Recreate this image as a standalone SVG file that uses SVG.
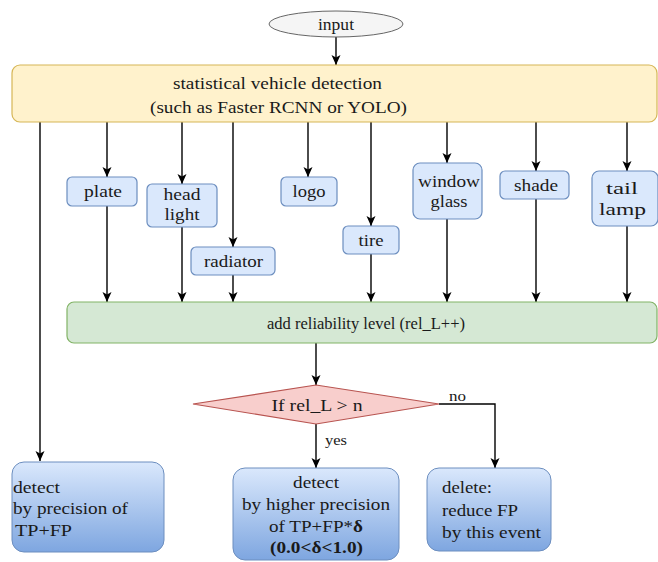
<svg xmlns="http://www.w3.org/2000/svg" width="658" height="562" viewBox="0 0 658 562">
<defs>
<linearGradient id="bg" x1="0" y1="0" x2="0" y2="1"><stop offset="0" stop-color="#dae8fc"/><stop offset="1" stop-color="#7ea6e0"/></linearGradient>
<marker id="ar" markerUnits="userSpaceOnUse" markerWidth="11" markerHeight="10" refX="10" refY="4.5" orient="auto"><path d="M0,0 L10,4.5 L0,9 L2.5,4.5 z" fill="#000"/></marker>
<style>
text{font-family:"Liberation Serif","DejaVu Serif",serif;fill:#1a1a1a;font-size:17px}
.c{text-anchor:middle}
.sb{fill:#dae8fc;stroke:#6c8ebf;stroke-width:1.2}
.bb{fill:url(#bg);stroke:#6c8ebf;stroke-width:1}
.ln{fill:none;stroke:#000;stroke-width:1.4}
.ar{marker-end:url(#ar)}
.sm{font-size:14px}
</style>
</defs>
<rect width="658" height="562" fill="#fff"/>
<g id="connectors">
<path class="ln ar" d="M336,37 V65"/>
<path class="ln ar" d="M40,122 V461"/>
<path class="ln ar" d="M107,122 V177"/>
<path class="ln ar" d="M182,122 V184"/>
<path class="ln ar" d="M233,122 V247"/>
<path class="ln ar" d="M308,122 V177"/>
<path class="ln ar" d="M371,122 V226"/>
<path class="ln ar" d="M447,122 V163"/>
<path class="ln ar" d="M536,122 V171"/>
<path class="ln ar" d="M627,122 V171"/>
<path class="ln ar" d="M107,206 V302"/>
<path class="ln ar" d="M182,227 V302"/>
<path class="ln ar" d="M233,275 V302"/>
<path class="ln ar" d="M371,254 V302"/>
<path class="ln ar" d="M447,219 V302"/>
<path class="ln ar" d="M536,199 V302"/>
<path class="ln ar" d="M627,226 V302"/>
<path class="ln ar" d="M316,343 V385"/>
<path class="ln ar" d="M439,404 H495 V468"/>
<path class="ln ar" d="M316,424 V468"/>
<text x="449" y="401" class="sm" textLength="17" lengthAdjust="spacingAndGlyphs">no</text>
<text x="325" y="445" class="sm" textLength="22" lengthAdjust="spacingAndGlyphs">yes</text>
</g>
<g id="input">
<ellipse cx="336" cy="24" rx="67" ry="13" fill="#f5f5f5" stroke="#666" stroke-width="1"/>
<text x="336" y="30" class="c" font-size="16" textLength="36" lengthAdjust="spacingAndGlyphs">input</text>
</g>
<g id="detection">
<rect x="12" y="65" width="645" height="57" rx="8" fill="#fff2cc" stroke="#d6b656" stroke-width="1.2"/>
<text x="277.5" y="89" class="c" textLength="209" lengthAdjust="spacingAndGlyphs">statistical vehicle detection</text>
<text x="278.5" y="113" class="c" textLength="257" lengthAdjust="spacingAndGlyphs">(such as Faster RCNN or YOLO)</text>
</g>
<g id="plate">
<rect class="sb" x="67" y="177" width="70" height="29" rx="5"/>
<text x="103" y="197" class="c" textLength="38" lengthAdjust="spacingAndGlyphs">plate</text>
</g>
<g id="headlight">
<rect class="sb" x="147" y="184" width="70" height="43" rx="5"/>
<text x="182" y="200" class="c" textLength="37" lengthAdjust="spacingAndGlyphs">head</text>
<text x="182" y="220" class="c" textLength="35" lengthAdjust="spacingAndGlyphs">light</text>
</g>
<g id="radiator">
<rect class="sb" x="191" y="247" width="84" height="28" rx="5"/>
<text x="233.5" y="267" class="c" textLength="59" lengthAdjust="spacingAndGlyphs">radiator</text>
</g>
<g id="logo">
<rect class="sb" x="281" y="177" width="56" height="29" rx="5"/>
<text x="309" y="197" class="c" textLength="33" lengthAdjust="spacingAndGlyphs">logo</text>
</g>
<g id="tire">
<rect class="sb" x="343" y="226" width="56" height="28" rx="5"/>
<text x="371" y="246" class="c" textLength="25" lengthAdjust="spacingAndGlyphs">tire</text>
</g>
<g id="windowglass">
<rect class="sb" x="413" y="163" width="69" height="56" rx="7"/>
<text x="449" y="187" class="c" textLength="62" lengthAdjust="spacingAndGlyphs">window</text>
<text x="449" y="207" class="c" textLength="37" lengthAdjust="spacingAndGlyphs">glass</text>
</g>
<g id="shade">
<rect class="sb" x="500" y="171" width="69" height="28" rx="5"/>
<text x="536" y="191" class="c" textLength="44" lengthAdjust="spacingAndGlyphs">shade</text>
</g>
<g id="taillamp">
<rect class="sb" x="592" y="171" width="66" height="55" rx="7"/>
<text x="622" y="194" class="c" textLength="32" lengthAdjust="spacingAndGlyphs">tail</text>
<text x="622.5" y="215" class="c" textLength="47" lengthAdjust="spacingAndGlyphs">lamp</text>
</g>
<g id="reliability">
<rect x="67" y="302" width="590" height="41" rx="7" fill="#d5e8d4" stroke="#82b366" stroke-width="1.2"/>
<text x="366" y="329" class="c" font-size="15" textLength="198" lengthAdjust="spacingAndGlyphs">add reliability level (rel_L++)</text>
</g>
<g id="decision">
<polygon points="193,404 316,385 439,404 316,424" fill="#f8cecc" stroke="#b85450" stroke-width="1.2"/>
<text x="317" y="411" class="c" textLength="91" lengthAdjust="spacingAndGlyphs">If rel_L &gt; n</text>
</g>
<g id="detect-all">
<rect class="bb" x="12" y="462" width="152" height="90" rx="12"/>
<text x="13" y="493" textLength="47" lengthAdjust="spacingAndGlyphs">detect</text>
<text x="13" y="514" textLength="115" lengthAdjust="spacingAndGlyphs">by precision of</text>
<text x="15" y="536" textLength="57" lengthAdjust="spacingAndGlyphs">TP+FP</text>
</g>
<g id="detect-high">
<rect class="bb" x="233" y="468" width="166" height="92" rx="12"/>
<text x="316" y="488" class="c" textLength="46" lengthAdjust="spacingAndGlyphs">detect</text>
<text x="316" y="510" class="c" textLength="148" lengthAdjust="spacingAndGlyphs">by higher precision</text>
<text x="316" y="532" class="c" textLength="94" lengthAdjust="spacingAndGlyphs">of TP+FP*<tspan font-weight="bold">δ</tspan></text>
<text x="316.5" y="553" class="c" font-weight="bold" textLength="93" lengthAdjust="spacingAndGlyphs">(0.0&lt;δ&lt;1.0)</text>
</g>
<g id="delete">
<rect class="bb" x="427" y="468" width="124" height="83" rx="12"/>
<text x="442" y="493" textLength="50" lengthAdjust="spacingAndGlyphs">delete:</text>
<text x="442" y="516" textLength="76" lengthAdjust="spacingAndGlyphs">reduce FP</text>
<text x="442" y="538" textLength="99" lengthAdjust="spacingAndGlyphs">by this event</text>
</g>
</svg>
